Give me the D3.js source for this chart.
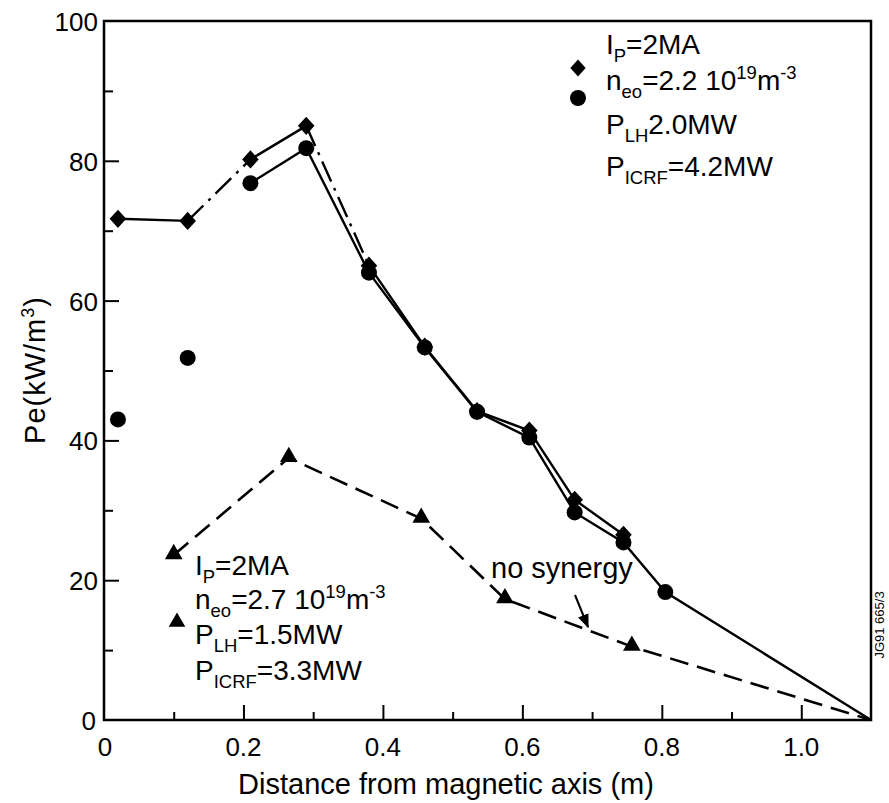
<!DOCTYPE html>
<html><head><meta charset="utf-8">
<script src="https://cdn.jsdelivr.net/npm/d3@7"></script>
<style>body{margin:0;background:#fff;} text{font-family:"Liberation Sans",Arial,sans-serif;fill:#000;}</style>
</head><body>
<svg id="c" width="889" height="803"></svg>
<script>
// ---- data ----
const diamondX = [0.02, 0.12, 0.21, 0.29, 0.38, 0.46, 0.535, 0.61, 0.675, 0.745];
const diamondY = [71.7, 71.4, 80.2, 85.0, 65.0, 53.4, 44.2, 41.4, 31.5, 26.5];
const circleX = [0.02, 0.12, 0.21, 0.29, 0.38, 0.46, 0.535, 0.61, 0.675, 0.745, 0.805];
const circleY = [43.0, 51.8, 76.8, 81.8, 64.0, 53.3, 44.1, 40.4, 29.7, 25.4, 18.3];
const circleLineStart = 2; // circle series line starts at the third point
const triX = [0.10, 0.265, 0.455, 0.575, 0.757];
const triY = [23.6, 37.5, 28.8, 17.3, 10.5];
const endPoint = [1.1, 0];
const xTicks = [0, 0.2, 0.4, 0.6, 0.8, 1.0];
const xTickLabels = ["0", "0.2", "0.4", "0.6", "0.8", "1.0"];
const yTicks = [0, 20, 40, 60, 80, 100];
const yTickLabels = ["0", "20", "40", "60", "80", "100"];

const svg = d3.select("#c");
const x = d3.scaleLinear().domain([0, 1.1]).range([104, 871]);
const y = d3.scaleLinear().domain([0, 100]).range([720, 21]);

// frame
svg.append("rect").attr("x", x(0)).attr("y", y(100)).attr("width", x(1.1) - x(0)).attr("height", y(0) - y(100))
  .attr("fill", "none").attr("stroke", "#000").attr("stroke-width", 2.5);

// ticks (inward)
const gx = svg.append("g").attr("transform", `translate(0,${y(0)})`);
gx.call(d3.axisBottom(x).tickValues(d3.range(0, 11).map(i => i / 10)).tickSize(0).tickFormat(""));
gx.select(".domain").remove();
gx.selectAll(".tick").append("line").attr("y1", 0).attr("y2", (d, i) => i % 2 === 0 ? -15 : -8)
  .attr("stroke", "#000").attr("stroke-width", 2);
gx.selectAll(".tick").filter((d, i) => i === 0).remove();

const gy = svg.append("g").attr("transform", `translate(${x(0)},0)`);
gy.call(d3.axisLeft(y).tickValues(d3.range(0, 11).map(i => i * 10)).tickSize(0).tickFormat(""));
gy.select(".domain").remove();
gy.selectAll(".tick").append("line").attr("x1", 0).attr("x2", (d, i) => i % 2 === 0 ? 15 : 9)
  .attr("stroke", "#000").attr("stroke-width", 2);
gy.selectAll(".tick").filter((d, i) => i === 0 || i === 10).remove();

// tick labels
svg.append("g").selectAll("text").data(xTicks).join("text")
  .attr("x", (d, i) => i === 0 ? x(d) + 1 : x(d)).attr("y", 756)
  .attr("text-anchor", "middle").attr("font-size", 26).text((d, i) => xTickLabels[i]);
svg.append("g").selectAll("text").data(yTicks).join("text")
  .attr("x", (d, i) => i === 0 ? 96 : 98).attr("y", d => y(d) + 10)
  .attr("text-anchor", "end").attr("font-size", 26).text((d, i) => yTickLabels[i]);

// axis titles
svg.append("text").attr("x", 446).attr("y", 794).attr("text-anchor", "middle").attr("font-size", 29)
  .text("Distance from magnetic axis (m)");
const yt = svg.append("text").attr("transform", "translate(45,370) rotate(-90)").attr("text-anchor", "middle")
  .attr("font-size", 29).attr("letter-spacing", 1);
yt.append("tspan").text("Pe(kW/m");
yt.append("tspan").attr("font-size", 18).attr("dy", -11).text("3");
yt.append("tspan").attr("dy", 11).text(")");

// lines
const line = d3.line().x(d => x(d[0])).y(d => y(d[1]));
const dPts = diamondX.map((v, i) => [v, diamondY[i]]);
const dashDot = "22,7,3,7";
for (let i = 0; i < dPts.length - 1; i++) {
  const dd = (i === 1 || i === 3) ? dashDot : null;
  svg.append("path").attr("d", line([dPts[i], dPts[i + 1]])).attr("fill", "none")
    .attr("stroke", "#000").attr("stroke-width", 2.4).attr("stroke-dasharray", dd);
}
const cPts = circleX.map((v, i) => [v, circleY[i]]).slice(circleLineStart).concat([endPoint]);
svg.append("path").attr("d", line(cPts)).attr("fill", "none").attr("stroke", "#000").attr("stroke-width", 2.4);
const tPts = triX.map((v, i) => [v, triY[i]]).concat([endPoint]);
svg.append("path").attr("d", line(tPts)).attr("fill", "none").attr("stroke", "#000").attr("stroke-width", 2.6)
  .attr("stroke-dasharray", "19,9");

// markers
const diamond = d3.symbol().type(d3.symbolDiamond2).size(175);
const tri = d3.symbol().type(d3.symbolTriangle).size(135);
svg.append("g").selectAll("path").data(dPts).join("path")
  .attr("d", diamond).attr("transform", d => `translate(${x(d[0])},${y(d[1])}) scale(1,1.1)`).attr("fill", "#000");
svg.append("g").selectAll("circle").data(circleX.map((v, i) => [v, circleY[i]])).join("circle")
  .attr("cx", d => x(d[0])).attr("cy", d => y(d[1])).attr("r", 8).attr("fill", "#000");
svg.append("g").selectAll("path").data(triX.map((v, i) => [v, triY[i]])).join("path")
  .attr("d", tri).attr("transform", d => `translate(${x(d[0])},${y(d[1]) - 1})`).attr("fill", "#000");

// legend helper
function richText(xp, yp, parts, fs) {
  const t = svg.append("text").attr("x", xp).attr("y", yp).attr("font-size", fs);
  let shift = 0;
  parts.forEach(p => {
    const target = p[1] === "sub" ? 8 : p[1] === "sup" ? -11 : 0;
    const ts = t.append("tspan").attr("dy", target - shift).text(p[0]);
    if (p[1]) ts.attr("font-size", fs * 0.66);
    shift = target;
  });
  return t;
}
const LF = 28;
// top-right legend
svg.append("path").attr("d", d3.symbol().type(d3.symbolDiamond2).size(150)).attr("transform", "translate(578,68) scale(1,1.1)").attr("fill", "#000");
svg.append("circle").attr("cx", 578).attr("cy", 98).attr("r", 8).attr("fill", "#000");
richText(606, 54, [["I"], ["P", "sub"], ["=2MA"]], LF);
richText(606, 90, [["n"], ["eo", "sub"], ["=2.2 10"], ["19", "sup"], ["m"], ["-3", "sup"]], LF);
richText(606, 134, [["P"], ["LH", "sub"], ["2.0MW"]], LF);
richText(606, 176, [["P"], ["ICRF", "sub"], ["=4.2MW"]], LF);

// bottom-left legend
svg.append("path").attr("d", d3.symbol().type(d3.symbolTriangle).size(120)).attr("transform", "translate(177,622)").attr("fill", "#000");
richText(195, 575, [["I"], ["P", "sub"], ["=2MA"]], LF);
richText(195, 609, [["n"], ["eo", "sub"], ["=2.7 10"], ["19", "sup"], ["m"], ["-3", "sup"]], LF);
richText(195, 644, [["P"], ["LH", "sub"], ["=1.5MW"]], LF);
richText(195, 680, [["P"], ["ICRF", "sub"], ["=3.3MW"]], LF);

// annotation
svg.append("text").attr("x", 491).attr("y", 578).attr("font-size", 29).text("no synergy");
svg.append("defs").append("marker").attr("id", "ah").attr("viewBox", "0 0 10 10").attr("refX", 9).attr("refY", 5)
  .attr("markerWidth", 7).attr("markerHeight", 7).attr("orient", "auto")
  .append("path").attr("d", "M0,1 L10,5 L0,9 Z").attr("fill", "#000");
svg.append("line").attr("x1", 575).attr("y1", 595).attr("x2", 588).attr("y2", 627)
  .attr("stroke", "#000").attr("stroke-width", 2).attr("marker-end", "url(#ah)");

// figure id
svg.append("text").attr("transform", "translate(884,625) rotate(-90)").attr("text-anchor", "middle")
  .attr("font-size", 13).text("JG91 665/3");
</script>
</body></html>
